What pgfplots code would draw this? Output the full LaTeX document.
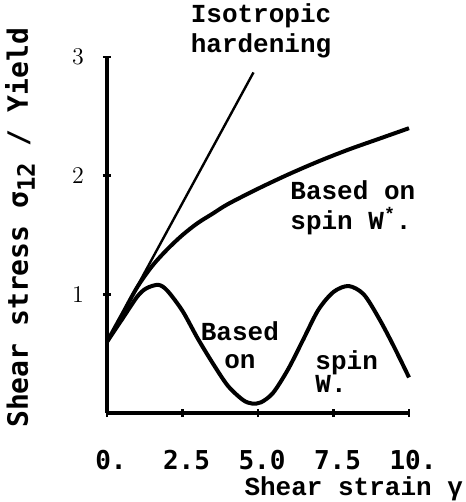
\documentclass[border=0pt]{standalone}
\usepackage{pgfplots}
\pgfplotsset{compat=1.18}
\usepackage{fontspec}
\newfontfamily\smono{DejaVu Sans Mono}
\newfontfamily\tmono{Liberation Mono}
\begin{document}
\begin{tikzpicture}
\begin{axis}[
  scale only axis, width=151pt, height=178pt,
  xmin=0, xmax=10, ymin=0, ymax=3,
  axis x line=bottom, axis y line=left,
  axis line style={-, line width=1.6pt},
  xtick={0,2.5,5,7.5,10}, xticklabels={0.,2.5,5.0,7.5,10.},
  ytick={1,2,3}, yticklabels={1,2,3},
  tick align=center, major tick length=4pt,
  tick style={line width=1.2pt, black},
  xticklabel style={font=\smono\bfseries\fontsize{13}{13}\selectfont, yshift=-13pt, xshift=2pt},
  yticklabel style={font=\fontsize{12}{12}\selectfont, xshift=-6pt},
  clip=false,
]
% Isotropic hardening
\addplot[line width=1.2pt, black] coordinates {(0,0.6) (4.85,2.87)};
% Based on spin W*
\addplot[line width=2pt, black, smooth] coordinates {
(0,0.6) (0.5,0.83) (1.0,1.06) (1.5,1.24) (2.0,1.38) (2.5,1.50) (3.0,1.60)
(3.5,1.68) (4.0,1.76) (5.0,1.89) (6.0,2.01) (7.0,2.12) (8.0,2.22) (9.0,2.31) (10.0,2.40)};
% Based on spin W
\addplot[line width=2pt, black, smooth] coordinates {
(0,0.6) (0.5,0.79) (1.0,0.98) (1.3,1.05) (1.7,1.08) (2.0,1.03) (2.5,0.86) (3.0,0.63)
(3.5,0.42) (4.0,0.23) (4.5,0.11) (4.8,0.08) (5.1,0.09) (5.5,0.17) (6.0,0.37) (6.5,0.62)
(7.0,0.87) (7.5,1.02) (8.0,1.07) (8.5,1.0) (9.0,0.8) (9.5,0.56) (10.0,0.30)};

\node[font=\tmono\bfseries\fontsize{13}{15}\selectfont, align=center, inner sep=0pt] at (axis cs:5.1,3.22) {Isotropic\\hardening};
\node[font=\tmono\bfseries\fontsize{13}{15}\selectfont, align=left, anchor=north west, inner sep=0pt] at (axis cs:6.06,1.96) {Based on\\spin W\textsuperscript{*}.};
\node[font=\tmono\bfseries\fontsize{13}{14}\selectfont, align=center, inner sep=0pt] at (axis cs:4.4,0.57) {Based\\on};
\node[font=\tmono\bfseries\fontsize{13}{11.5}\selectfont, align=left, anchor=north west, inner sep=0pt] at (axis cs:6.89,0.53) {spin\\W.};
\node[font=\tmono\bfseries\fontsize{13}{13}\selectfont, anchor=east, inner sep=0pt] at (axis cs:11.8,-0.64) {Shear strain γ};
\node[font=\smono\bfseries\fontsize{14}{14}\selectfont, rotate=90, inner sep=0pt] at (axis cs:-2.88,1.56) {Shear stress σ\raisebox{-0.45ex}{\fontsize{12}{12}\selectfont 12} / Yield};
\end{axis}
\path ([shift={(-53.5pt,-44.5pt)}]current axis.south west) rectangle ([shift={(28pt,28.5pt)}]current axis.north east);
\end{tikzpicture}
\end{document}
